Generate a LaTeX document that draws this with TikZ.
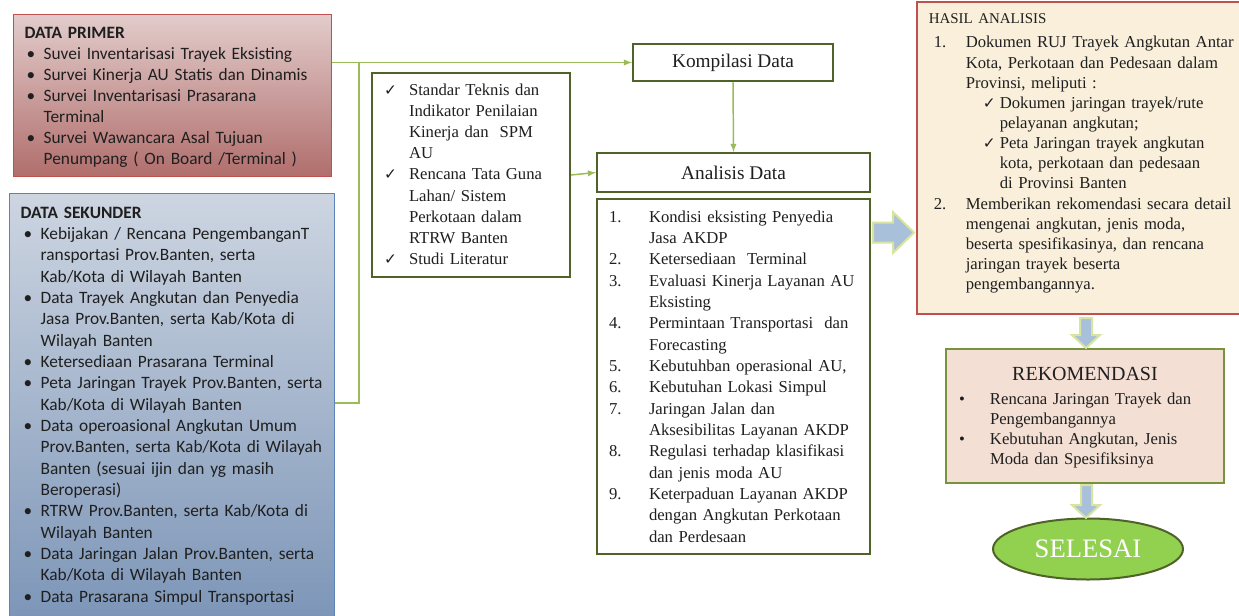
\documentclass[tikz,border=0pt]{standalone}
\usepackage{fontspec}
\setmainfont{Liberation Serif}
\newfontfamily\calib{Carlito}
\newfontfamily\symf{DejaVu Sans}
\usetikzlibrary{shapes.geometric}

\definecolor{primred}{HTML}{C0504D}
\definecolor{primtop}{HTML}{E2CCCB}
\definecolor{primbot}{HTML}{B06E6C}
\definecolor{sekblue}{HTML}{5B82BA}
\definecolor{sektop}{HTML}{CDD5E1}
\definecolor{sekbot}{HTML}{7D96B8}
\definecolor{lgreen}{HTML}{9BBB59}
\definecolor{olivedark}{HTML}{4F6228}
\definecolor{cream}{HTML}{F9EFDB}
\definecolor{rekfill}{HTML}{F4DFD4}
\definecolor{rekborder}{HTML}{77933C}
\definecolor{arrblue}{HTML}{A9C0DA}
\definecolor{arrrim}{HTML}{D7E4A2}
\definecolor{selgreen}{HTML}{92D050}
\definecolor{txtdark}{HTML}{1F1F1F}

% list lines: label at \labx, text at \txtx
\newlength\labx
\newlength\txtx
\newcommand{\bfirst}[2]{\makebox[\txtx][l]{\hspace*{\labx}#1}\mbox{#2}}
\newcommand{\bitem}[2]{\par\noindent\bfirst{#1}{#2}}
\newcommand{\bcont}[1]{\par\noindent\hspace*{\txtx}\mbox{#1}}
\newcommand{\chk}{{\symf\fontsize{11.5}{11.5}\selectfont ✓}}

\begin{document}
\begin{tikzpicture}[x=0.75pt,y=-0.75pt,>=latex,
    conn/.style={draw=lgreen, line width=1.1pt},
    frame/.style={draw=olivedark, line width=1.5pt, fill=white},
    listbox/.style={anchor=north west, align=left, inner ysep=0pt, text=txtdark},
    blockarr/.style={fill=arrblue, draw=arrrim, line width=1.5pt, line join=miter}]

\useasboundingbox (0,0) rectangle (1239,615);

% data sources
\node[listbox, draw=primred, line width=1pt, top color=primtop, bottom color=primbot,
      text width=222pt, inner xsep=8.25pt, text height=17.6pt, text depth=103.9pt,
      font=\calib\fontsize{13}{15.75}\selectfont] (primer) at (13,14)
  {\textbf{DATA PRIMER}\setlength\labx{1.5pt}\setlength\txtx{14.25pt}
   \bitem{\textbullet}{Suvei Inventarisasi Trayek Eksisting}
   \bitem{\textbullet}{Survei Kinerja AU Statis dan Dinamis}
   \bitem{\textbullet}{Survei Inventarisasi Prasarana}
   \bcont{Terminal}
   \bitem{\textbullet}{Survei Wawancara Asal Tujuan}
   \bcont{Penumpang ( On Board /Terminal )}};

\node[listbox, draw=sekblue, line width=1pt, top color=sektop, bottom color=sekbot,
      text width=226.875pt, inner xsep=8.625pt, text height=18.4pt, text depth=298.9pt,
      font=\calib\fontsize{13}{16}\selectfont] (sekunder) at (8.5,193)
  {\textbf{DATA SEKUNDER}\setlength\labx{2.25pt}\setlength\txtx{15pt}
   \bitem{\textbullet}{Kebijakan / Rencana PengembanganT}
   \bcont{ransportasi Prov.Banten, serta}
   \bcont{Kab/Kota di Wilayah Banten}
   \bitem{\textbullet}{Data Trayek Angkutan dan Penyedia}
   \bcont{Jasa Prov.Banten, serta Kab/Kota di}
   \bcont{Wilayah Banten}
   \bitem{\textbullet}{Ketersediaan Prasarana Terminal}
   \bitem{\textbullet}{Peta Jaringan Trayek Prov.Banten, serta}
   \bcont{Kab/Kota di Wilayah Banten}
   \bitem{\textbullet}{Data operoasional Angkutan Umum}
   \bcont{Prov.Banten, serta Kab/Kota di Wilayah}
   \bcont{Banten (sesuai ijin dan yg masih}
   \bcont{Beroperasi)}
   \bitem{\textbullet}{RTRW Prov.Banten, serta Kab/Kota di}
   \bcont{Wilayah Banten}
   \bitem{\textbullet}{Data Jaringan Jalan Prov.Banten, serta}
   \bcont{Kab/Kota di Wilayah Banten}
   \bitem{\textbullet}{Data Prasarana Simpul Transportasi}};

\node[listbox, frame, text width=130.5pt, inner xsep=9pt, text height=16.5pt, text depth=136.5pt,
      font=\fontsize{12.5}{15.9}\selectfont] (cek) at (371,72)
  {\setlength\labx{0pt}\setlength\txtx{18.75pt}%
   \bfirst{\chk}{Standar Teknis dan}
   \bcont{Indikator Penilaian}
   \bcont{Kinerja dan\ \ SPM}
   \bcont{AU}
   \bitem{\chk}{Rencana Tata Guna}
   \bcont{Lahan/ Sistem}
   \bcont{Perkotaan dalam}
   \bcont{RTRW Banten}
   \bitem{\chk}{Studi Literatur}};

% analysis column
\node[frame, anchor=north west, minimum width=150pt, minimum height=27.75pt, inner sep=0pt,
      text=txtdark, font=\fontsize{14.5}{17}\selectfont] (komp) at (632,43) {Kompilasi Data};
\node[frame, anchor=north west, minimum width=204.75pt, minimum height=29.25pt, inner sep=0pt,
      text=txtdark, font=\fontsize{14.5}{17}\selectfont] (anHead) at (596,152) {Analisis Data};

\node[listbox, frame, text width=186.75pt, inner xsep=9pt, text height=17.25pt, text depth=249pt,
      font=\fontsize{12.5}{16}\selectfont] (anList) at (596,198)
  {\setlength\labx{0pt}\setlength\txtx{30pt}%
   \bfirst{1.}{Kondisi eksisting Penyedia}
   \bcont{Jasa AKDP}
   \bitem{2.}{Ketersediaan\ \ Terminal}
   \bitem{3.}{Evaluasi Kinerja Layanan AU}
   \bcont{Eksisting}
   \bitem{4.}{Permintaan Transportasi\ \ dan}
   \bcont{Forecasting}
   \bitem{5.}{Kebutuhban operasional AU,}
   \bitem{6.}{Kebutuhan Lokasi Simpul}
   \bitem{7.}{Jaringan Jalan dan}
   \bcont{Aksesibilitas Layanan AKDP}
   \bitem{8.}{Regulasi terhadap klasifikasi}
   \bcont{dan jenis moda AU}
   \bitem{9.}{Keterpaduan Layanan AKDP}
   \bcont{dengan Angkutan Perkotaan}
   \bcont{dan Perdesaan}};

% results
\node[listbox, draw=primred, line width=1.2pt, fill=cream, text width=228.75pt, inner xsep=9pt,
      text height=16.5pt, text depth=217.5pt, font=\fontsize{12.5}{15.1}\selectfont] (hasil) at (916,1)
  {{\fontsize{11.2}{15.1}\selectfont HASIL ANALISIS}\par\vspace{3pt}%
   \setlength\labx{3.75pt}\setlength\txtx{27.75pt}%
   \bitem{1.}{Dokumen RUJ Trayek Angkutan Antar}
   \bcont{Kota, Perkotaan dan Pedesaan dalam}
   \bcont{Provinsi, meliputi :}
   \setlength\labx{40.5pt}\setlength\txtx{53.25pt}%
   \bitem{\chk}{Dokumen jaringan trayek/rute}
   \bcont{pelayanan angkutan;}
   \bitem{\chk}{Peta Jaringan trayek angkutan}
   \bcont{kota, perkotaan dan pedesaan}
   \bcont{di Provinsi Banten}
   \setlength\labx{3.75pt}\setlength\txtx{27.75pt}%
   \bitem{2.}{Memberikan rekomendasi secara detail}
   \bcont{mengenai angkutan, jenis moda,}
   \bcont{beserta spesifikasinya, dan rencana}
   \bcont{jaringan trayek beserta}
   \bcont{pengembangannya.}};

\node[listbox, draw=rekborder, line width=1.5pt, fill=rekfill, text width=189pt, inner xsep=9.75pt,
      text height=23.25pt, text depth=77.25pt, font=\fontsize{12.5}{15.2}\selectfont] (rekom) at (945,348)
  {\makebox[\linewidth][c]{\fontsize{15}{18}\selectfont REKOMENDASI}\par\vspace{2.8pt}%
   \setlength\labx{0pt}\setlength\txtx{23.25pt}%
   \bitem{\textbullet}{Rencana Jaringan Trayek dan}
   \bcont{Pengembangannya}
   \bitem{\textbullet}{Kebutuhan Angkutan, Jenis}
   \bcont{Moda dan Spesifiksinya}};

\node[ellipse, draw=olivedark, line width=1.5pt, fill=selgreen, minimum width=142.5pt,
      minimum height=45.75pt, text=white, font=\fontsize{20}{24}\selectfont] (selesai) at (1088,549) {SELESAI};

% connectors
\coordinate (jn) at (359,61.5);
\coordinate (sekin) at (sekunder.east |- 0,403);
\draw[conn,->] (primer.east |- komp.west) -- (komp.west);
\draw[conn] (sekin) -| (jn);
\draw[conn,->] (komp.south) -- (anHead.north);
\draw[conn,->] (cek.east) -- (anHead.west);

% block arrows
\draw[blockarr] (873,222.5) -- (893,222.5) -- (893,212) -- (914,232.5) -- (893,253) -- (893,242.5) -- (873,242.5) -- cycle;
\draw[blockarr] (1080,318) -- (1092,318) -- (1092,335) -- (1100,335) -- (1086,348) -- (1072,335) -- (1080,335) -- cycle;
\draw[blockarr] (1081,485) -- (1092,485) -- (1092,505) -- (1100,505) -- (1086,518) -- (1072,505) -- (1081,505) -- cycle;
\end{tikzpicture}
\end{document}
